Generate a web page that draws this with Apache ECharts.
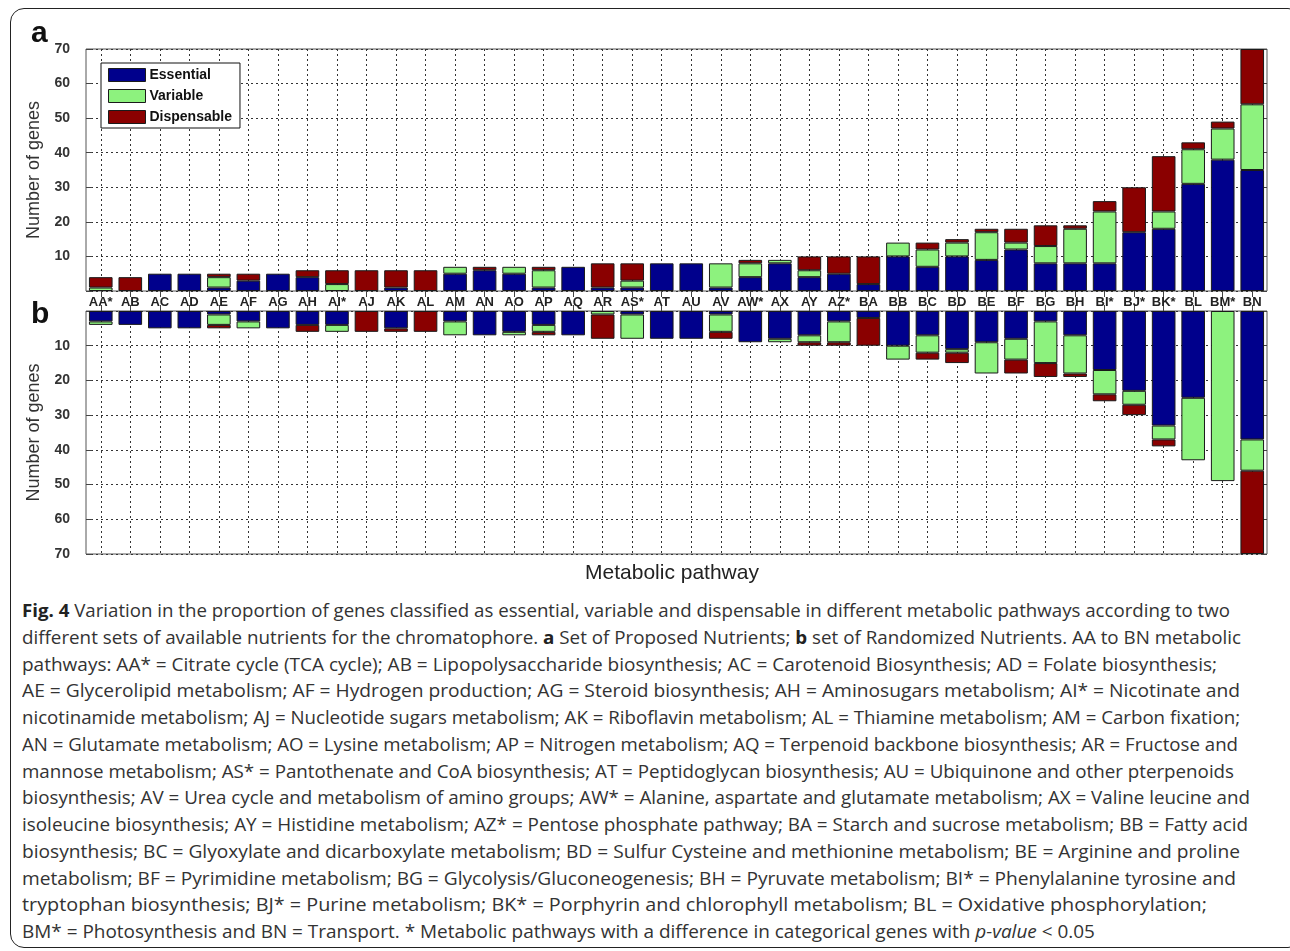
<!DOCTYPE html>
<html><head><meta charset="utf-8">
<script src="https://cdn.jsdelivr.net/npm/echarts@6/dist/echarts.min.js"></script>
<style>
html,body{margin:0;padding:0;background:#fff;}
#frame{position:absolute;left:10px;top:8px;width:1292px;height:940px;border:1.5px solid #222;border-radius:14px;box-sizing:border-box;}
#chart{position:absolute;left:0;top:0;width:1290px;height:595px;}
.cl{position:absolute;left:22px;white-space:nowrap;font-family:"Open Sans",sans-serif;font-size:18px;color:#333;transform-origin:0 50%;line-height:20px;}
.cl b{font-weight:700;color:#222;}
</style>
</head><body>
<div id="frame"></div>
<div id="chart"></div>
<div id="caption">
<div class="cl" data-w="1208"><b>Fig. 4</b> Variation in the proportion of genes classified as essential, variable and dispensable in different metabolic pathways according to two</div>
<div class="cl" data-w="1219">different sets of available nutrients for the chromatophore. <b>a</b> Set of Proposed Nutrients; <b>b</b> set of Randomized Nutrients. AA to BN metabolic</div>
<div class="cl" data-w="1195">pathways: AA* = Citrate cycle (TCA cycle); AB = Lipopolysaccharide biosynthesis; AC = Carotenoid Biosynthesis; AD = Folate biosynthesis;</div>
<div class="cl" data-w="1218">AE = Glycerolipid metabolism; AF = Hydrogen production; AG = Steroid biosynthesis; AH = Aminosugars metabolism; AI* = Nicotinate and</div>
<div class="cl" data-w="1218">nicotinamide metabolism; AJ = Nucleotide sugars metabolism; AK = Riboflavin metabolism; AL = Thiamine metabolism; AM = Carbon fixation;</div>
<div class="cl" data-w="1216">AN = Glutamate metabolism; AO = Lysine metabolism; AP = Nitrogen metabolism; AQ = Terpenoid backbone biosynthesis; AR = Fructose and</div>
<div class="cl" data-w="1212">mannose metabolism; AS* = Pantothenate and CoA biosynthesis; AT = Peptidoglycan biosynthesis; AU = Ubiquinone and other pterpenoids</div>
<div class="cl" data-w="1228">biosynthesis; AV = Urea cycle and metabolism of amino groups; AW* = Alanine, aspartate and glutamate metabolism; AX = Valine leucine and</div>
<div class="cl" data-w="1226">isoleucine biosynthesis; AY = Histidine metabolism; AZ* = Pentose phosphate pathway; BA = Starch and sucrose metabolism; BB = Fatty acid</div>
<div class="cl" data-w="1218">biosynthesis; BC = Glyoxylate and dicarboxylate metabolism; BD = Sulfur Cysteine and methionine metabolism; BE = Arginine and proline</div>
<div class="cl" data-w="1214">metabolism; BF = Pyrimidine metabolism; BG = Glycolysis/Gluconeogenesis; BH = Pyruvate metabolism; BI* = Phenylalanine tyrosine and</div>
<div class="cl" data-w="1185">tryptophan biosynthesis; BJ* = Purine metabolism; BK* = Porphyrin and chlorophyll metabolism; BL = Oxidative phosphorylation;</div>
<div class="cl" data-w="1073">BM* = Photosynthesis and BN = Transport. * Metabolic pathways with a difference in categorical genes with <i>p-value</i> &lt; 0.05</div>
</div>
<script>
// ---- DATA ----
const categories = ['AA*','AB','AC','AD','AE','AF','AG','AH','AI*','AJ','AK','AL','AM','AN','AO','AP','AQ','AR','AS*','AT','AU','AV','AW*','AX','AY','AZ*','BA','BB','BC','BD','BE','BF','BG','BH','BI*','BJ*','BK*','BL','BM*','BN'];
// Panel a: Set of Proposed Nutrients
const essentialA   = [0,0,5,5,1,3,5,4,0,0,1,0,5,6,5,1,7,1,1,8,8,1,4,8,4,5,2,10,7,10,9,12,8,8,8,17,18,31,38,35];
const variableA    = [1,0,0,0,3,0,0,0,2,0,0,0,2,0,2,5,0,0,2,0,0,7,4,1,2,0,0,4,5,4,8,2,5,10,15,0,5,10,9,19];
const dispensableA = [3,4,0,0,1,2,0,2,4,6,5,6,0,1,0,1,0,7,5,0,0,0,1,0,4,5,8,0,2,1,1,4,6,1,3,13,16,2,2,16];
// Panel b: Set of Randomized Nutrients
const essentialB   = [3,4,5,5,1,3,5,4,4,0,5,0,3,7,6,4,7,0,1,8,8,1,9,8,7,3,2,10,7,11,9,8,3,7,17,23,33,25,0,37];
const variableB    = [1,0,0,0,3,2,0,0,2,0,0,0,4,0,1,2,0,1,7,0,0,5,0,1,2,6,0,4,5,1,9,6,12,11,7,4,4,18,49,9];
const dispensableB = [0,0,0,0,1,0,0,2,0,6,1,6,0,0,0,1,0,7,0,0,0,2,0,0,1,1,8,0,2,3,0,4,4,1,2,3,2,0,0,24];
const seriesNames = ['Essential','Variable','Dispensable'];
const yMin = 0, yMax = 70, yStep = 10;

// ---- STYLE ----
const FONT = '"Liberation Sans", Arial, sans-serif';
const colors = ['#00008c','#8df27e','#8a0000'];
const dotted = {type:[2,3], color:'#333', width:1};
const clean = arr => arr.map(v => v === 0 ? null : v);

const chart = echarts.init(document.getElementById('chart'));
function catAxis(grid, pos, extra) {
  return Object.assign({
    type:'category', data: categories, gridIndex: grid, position: pos,
    axisLine:{show:false}, axisTick:{show:false}, axisLabel:{show:false}, splitLine:{show:false}
  }, extra);
}
function valAxis(grid, pos, inverse, extra) {
  return Object.assign({
    type:'value', gridIndex: grid, position: pos, inverse: inverse,
    min: yMin, max: yMax, interval: yStep,
    axisLine:{show:false},
    axisTick:{show:true, inside:true, length:6, lineStyle:{color:'#444'}},
    axisLabel:{show:false}, splitLine:{show:false}
  }, extra);
}
const leftLabel = {show:true, fontFamily:FONT, fontWeight:'bold', fontSize:14, color:'#333', margin:16,
  formatter: v => v === 0 ? '' : String(v)};
const yName = {name:'Number of genes', nameLocation:'middle', nameGap:39,
  nameTextStyle:{fontFamily:FONT, fontSize:18, color:'#333'}};

const series = [];
[[essentialA,variableA,dispensableA,0,'a'],[essentialB,variableB,dispensableB,2,'b']].forEach(([e,v,d,ax,st]) => {
  [e,v,d].forEach((arr,i) => {
    series.push({
      type:'bar', name: seriesNames[i], stack: st, data: clean(arr),
      xAxisIndex: ax, yAxisIndex: ax, barWidth:'80%',
      itemStyle:{color: colors[i], borderColor:'#1a1a1a', borderWidth:1},
      emphasis:{disabled:true}
    });
  });
});

chart.setOption({
  animation:false,
  grid:[
    {left:86, top:49, width:1181, height:242, show:true, borderColor:'#555', borderWidth:1, backgroundColor:'transparent'},
    {left:86, top:311, width:1181, height:243, show:true, borderColor:'#555', borderWidth:1, backgroundColor:'transparent'}
  ],
  xAxis:[
    catAxis(0,'bottom',{axisLabel:{show:true, interval:0, fontFamily:FONT, fontWeight:'bold', fontSize:13, color:'#222', margin:5},
      splitLine:{show:true, interval:0, alignWithLabel:true, lineStyle:dotted}}),
    catAxis(0,'top',{axisTick:{show:true, inside:true, alignWithLabel:true, interval:0, length:6, lineStyle:{color:'#444'}}}),
    catAxis(1,'top',{splitLine:{show:true, interval:0, alignWithLabel:true, lineStyle:dotted}}),
    catAxis(1,'bottom',{axisTick:{show:true, inside:true, alignWithLabel:true, interval:0, length:6, lineStyle:{color:'#444'}}})
  ],
  yAxis:[
    valAxis(0,'left',false,Object.assign({axisLabel:leftLabel, splitLine:{show:true, lineStyle:dotted}}, yName)),
    valAxis(0,'right',false,{}),
    valAxis(1,'left',true,Object.assign({axisLabel:leftLabel, splitLine:{show:true, lineStyle:dotted}}, yName)),
    valAxis(1,'right',true,{})
  ],
  legend:{
    data: seriesNames, orient:'vertical', left:101, top:63, icon:'rect',
    itemWidth:37, itemHeight:13, itemGap:7, padding:[5,8,4,7],
    borderColor:'#111', borderWidth:1, backgroundColor:'#fff', selectedMode:false,
    textStyle:{fontFamily:FONT, fontWeight:'bold', fontSize:14, color:'#111', padding:[0,0,0,-1]},
    itemStyle:{borderColor:'#1a1a1a', borderWidth:1}
  },
  graphic:[
    {type:'text', left:31, top:19, style:{text:'a', font:'bold 30px "Liberation Sans", Arial', fill:'#111'}},
    {type:'text', left:31, top:300, style:{text:'b', font:'bold 30px "Liberation Sans", Arial', fill:'#111'}},
    {type:'text', x:672, y:573, style:{text:'Metabolic pathway', font:'21px "Liberation Sans", Arial', fill:'#222', align:'center', verticalAlign:'middle'}}
  ],
  series: series
});

// caption line placement
function layoutCaption(){
  const lines = document.querySelectorAll('.cl');
  lines.forEach((el,i) => {
    el.style.top = (610 + i*26.75 - 10) + 'px';
    el.style.transform = 'none';
    const w = el.getBoundingClientRect().width;
    const target = parseFloat(el.dataset.w);
    el.style.transform = 'scaleX(' + (target / w).toFixed(4) + ')';
  });
}
layoutCaption();
if (document.fonts && document.fonts.ready) document.fonts.ready.then(layoutCaption);
</script>
</body></html>
